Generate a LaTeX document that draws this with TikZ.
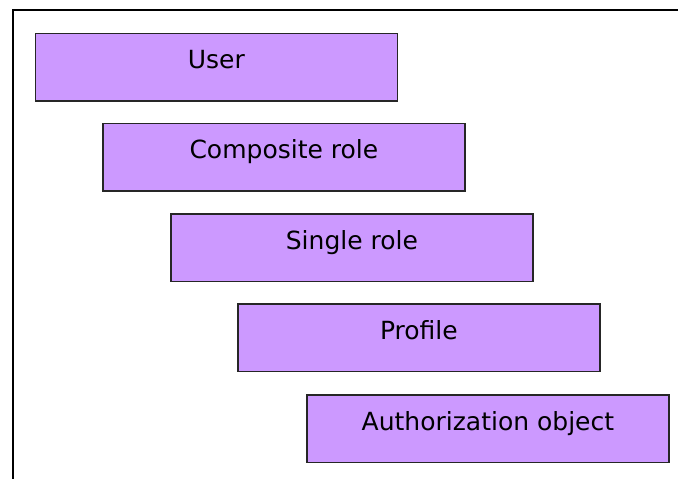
\documentclass[tikz,border=0pt]{standalone}
\usepackage{fontspec}
\setmainfont{DejaVu Sans}
\definecolor{boxfill}{HTML}{CC99FF}
\begin{document}
\begin{tikzpicture}[x=1pt,y=-1pt,
  layer/.style={draw=black!85,line width=1.8pt,fill=boxfill,rectangle,minimum width=362pt,minimum height=67.5pt,anchor=north west,inner sep=0pt},
  lbl/.style={font=\fontsize{25}{30}\selectfont,anchor=base,inner sep=0pt}]
\useasboundingbox (0,0) rectangle (678,479);
\fill[white] (0,0) rectangle (678,479);
\coordinate (fb) at (12.5,479);
\coordinate (fc) at (12.5,9.5);
\coordinate (fr) at (678,9.5);
\draw[line width=2pt] (fb) -- (fc) -- (fr);
\node[layer] (user) at (34.5,32.5) {};
\node[layer] (comp) at (102,122.5) {};
\node[layer] (single) at (170,213) {};
\node[layer] (prof) at (237,303) {};
\node[layer] (auth) at (306,394) {};
\node[lbl] (tuser) at ([yshift=-35.5pt]user.north) {User};
\node[lbl] (tcomp) at ([yshift=-36pt]comp.north) {Composite role};
\node[lbl] (tsingle) at ([yshift=-36pt]single.north) {Single role};
\node[lbl] (tprof) at ([yshift=-36pt]prof.north) {Profile};
\node[lbl] (tauth) at ([yshift=-36pt]auth.north) {Authorization object};
\end{tikzpicture}
\end{document}
